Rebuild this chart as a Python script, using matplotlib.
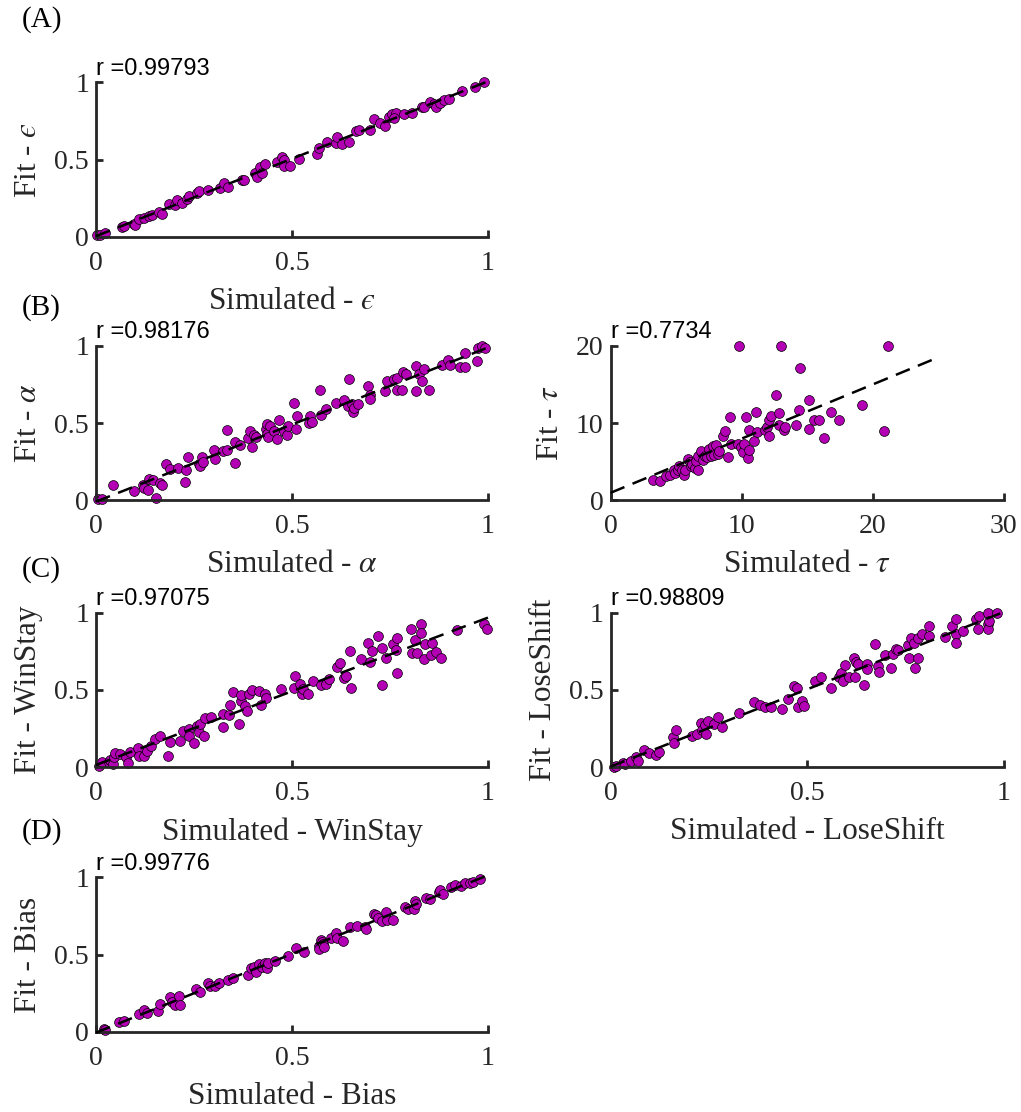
import numpy as np
import matplotlib
matplotlib.use('Agg')
import matplotlib.pyplot as plt

plt.rcParams['font.family'] = ['Liberation Serif', 'DejaVu Serif']
plt.rcParams['mathtext.fontset'] = 'stix'

# ---- data (simulated vs fitted parameters) ----
eps_sim = [0.003, 0.011, 0.024, 0.066, 0.071, 0.096, 0.100, 0.109, 0.122, 0.134, 0.143, 0.160,
           0.168, 0.185, 0.202, 0.207, 0.219, 0.232, 0.236, 0.258, 0.264, 0.287, 0.317, 0.326,
           0.338, 0.372, 0.377, 0.406, 0.411, 0.419, 0.423, 0.432, 0.462, 0.474, 0.479, 0.479,
           0.496, 0.517, 0.564, 0.568, 0.589, 0.611, 0.615, 0.628, 0.645, 0.662, 0.670, 0.700,
           0.708, 0.725, 0.738, 0.747, 0.755, 0.764, 0.759, 0.785, 0.806, 0.832, 0.836, 0.853,
           0.861, 0.866, 0.878, 0.887, 0.900, 0.934, 0.968, 0.989]
eps_fit = [0.011, 0.015, 0.026, 0.065, 0.073, 0.086, 0.076, 0.114, 0.125, 0.134, 0.140, 0.162,
           0.147, 0.212, 0.205, 0.238, 0.220, 0.248, 0.263, 0.281, 0.298, 0.302, 0.318, 0.346,
           0.324, 0.367, 0.371, 0.410, 0.389, 0.454, 0.410, 0.471, 0.486, 0.518, 0.497, 0.458,
           0.458, 0.503, 0.536, 0.572, 0.616, 0.609, 0.644, 0.598, 0.616, 0.687, 0.691, 0.691,
           0.765, 0.734, 0.717, 0.778, 0.793, 0.803, 0.767, 0.795, 0.799, 0.838, 0.842, 0.875,
           0.860, 0.838, 0.868, 0.886, 0.890, 0.944, 0.972, 0.999]

alpha_sim = [0.005, 0.015, 0.043, 0.098, 0.120, 0.123, 0.132, 0.134, 0.145, 0.152, 0.164, 0.168,
             0.179, 0.190, 0.209, 0.228, 0.230, 0.234, 0.264, 0.266, 0.270, 0.272, 0.300, 0.303,
             0.323, 0.334, 0.334, 0.354, 0.355, 0.367, 0.387, 0.392, 0.398, 0.404, 0.408, 0.434,
             0.436, 0.436, 0.439, 0.443, 0.455, 0.462, 0.466, 0.480, 0.486, 0.489, 0.506, 0.511,
             0.513, 0.543, 0.545, 0.551, 0.571, 0.574, 0.587, 0.611, 0.632, 0.643, 0.646, 0.653,
             0.655, 0.659, 0.668, 0.693, 0.700, 0.700, 0.738, 0.742, 0.759, 0.768, 0.769, 0.780,
             0.782, 0.792, 0.817, 0.817, 0.823, 0.832, 0.836, 0.850, 0.883, 0.898, 0.902, 0.928,
             0.942, 0.942, 0.972, 0.974, 0.985, 0.991]
alpha_fit = [0.008, 0.012, 0.097, 0.060, 0.097, 0.082, 0.065, 0.136, 0.130, 0.017, 0.112, 0.097,
             0.233, 0.205, 0.210, 0.119, 0.194, 0.281, 0.238, 0.222, 0.281, 0.248, 0.324, 0.270,
             0.320, 0.324, 0.454, 0.242, 0.378, 0.356, 0.406, 0.449, 0.346, 0.421, 0.410, 0.464,
             0.492, 0.432, 0.410, 0.479, 0.449, 0.400, 0.518, 0.449, 0.421, 0.479, 0.631, 0.464,
             0.544, 0.501, 0.544, 0.508, 0.717, 0.555, 0.594, 0.631, 0.652, 0.609, 0.788, 0.626,
             0.572, 0.600, 0.626, 0.739, 0.685, 0.659, 0.708, 0.773, 0.788, 0.717, 0.795, 0.717,
             0.832, 0.816, 0.708, 0.868, 0.816, 0.773, 0.847, 0.717, 0.879, 0.907, 0.879, 0.864,
             0.864, 0.955, 0.903, 0.983, 0.998, 0.989]

tau_sim = [3.23, 3.74, 4.20, 4.50, 4.81, 4.93, 5.14, 5.26, 5.47, 5.64, 5.70, 5.90, 6.03, 6.15,
           6.23, 6.41, 6.53, 6.66, 6.71, 6.92, 7.04, 7.17, 7.35, 7.55, 7.68, 7.81, 7.86, 8.06,
           8.19, 8.31, 8.57, 8.77, 8.95, 9.08, 9.20, 9.71, 9.84, 9.97, 10.09, 10.22, 10.35, 10.48,
           10.55, 10.55, 10.98, 11.11, 11.16, 11.75, 11.93, 12.08, 12.13, 12.26, 12.64, 12.84,
           12.84, 12.97, 13.20, 13.35, 14.16, 14.37, 14.42, 15.18, 15.18, 15.56, 15.89, 16.32,
           16.83, 17.47, 19.20, 20.90, 21.15]
tau_fit = [2.58, 2.49, 3.13, 3.26, 3.91, 3.56, 3.91, 4.42, 3.99, 3.35, 3.99, 5.36, 4.94, 4.42,
           4.76, 4.21, 5.06, 3.99, 5.71, 6.35, 5.28, 5.71, 5.62, 6.65, 5.71, 7.00, 5.92, 7.21,
           6.05, 6.35, 8.37, 9.01, 5.62, 10.77, 7.34, 7.34, 20.0, 6.91, 6.22, 7.34, 10.77, 5.49,
           6.57, 9.06, 7.64, 11.50, 8.80, 9.14, 9.48, 10.43, 8.37, 10.86, 13.65, 11.29,
           9.79, 20.0, 9.14, 9.48, 9.79, 11.72, 17.08, 13.00, 9.27, 10.43, 10.43, 8.07,
           11.50, 10.34, 12.36, 9.01, 20.0]

ws_sim = [0.007, 0.015, 0.032, 0.037, 0.043, 0.045, 0.048, 0.062, 0.077, 0.081, 0.088, 0.107,
          0.111, 0.122, 0.130, 0.140, 0.151, 0.164, 0.184, 0.188, 0.215, 0.222, 0.236, 0.236,
          0.249, 0.258, 0.262, 0.266, 0.275, 0.277, 0.294, 0.324, 0.324, 0.339, 0.343, 0.349,
          0.366, 0.369, 0.370, 0.380, 0.386, 0.390, 0.398, 0.415, 0.420, 0.432, 0.434, 0.473,
          0.507, 0.506, 0.520, 0.526, 0.528, 0.540, 0.553, 0.574, 0.586, 0.594, 0.615, 0.622,
          0.632, 0.638, 0.649, 0.651, 0.677, 0.694, 0.699, 0.705, 0.719, 0.730, 0.730, 0.739,
          0.758, 0.764, 0.767, 0.768, 0.804, 0.805, 0.813, 0.820, 0.828, 0.828, 0.837, 0.838,
          0.855, 0.858, 0.866, 0.881, 0.920, 0.990, 0.998]
ws_fit = [0.011, 0.032, 0.032, 0.047, 0.022, 0.065, 0.090, 0.086, 0.065, 0.026, 0.097, 0.123,
          0.075, 0.075, 0.108, 0.140, 0.183, 0.204, 0.075, 0.161, 0.172, 0.237, 0.247, 0.204,
          0.155, 0.269, 0.226, 0.280, 0.204, 0.318, 0.327, 0.258, 0.344, 0.340, 0.404, 0.490,
          0.280, 0.426, 0.469, 0.394, 0.361, 0.473, 0.499, 0.495, 0.404, 0.473, 0.447, 0.505,
          0.591, 0.516, 0.538, 0.473, 0.505, 0.477, 0.555, 0.531, 0.542, 0.570, 0.649, 0.677,
          0.576, 0.591, 0.753, 0.512, 0.703, 0.802, 0.682, 0.753, 0.849, 0.770, 0.533, 0.710,
          0.796, 0.757, 0.613, 0.834, 0.892, 0.742, 0.822, 0.742, 0.929, 0.871, 0.699, 0.800,
          0.727, 0.806, 0.748, 0.705, 0.886, 0.929, 0.892]

ls_sim = [0.008, 0.014, 0.031, 0.036, 0.053, 0.065, 0.069, 0.086, 0.099, 0.116, 0.122, 0.158,
          0.161, 0.167, 0.207, 0.220, 0.231, 0.233, 0.239, 0.243, 0.249, 0.262, 0.273, 0.284,
          0.326, 0.366, 0.381, 0.394, 0.408, 0.436, 0.451, 0.466, 0.474, 0.476, 0.487, 0.492,
          0.519, 0.536, 0.561, 0.582, 0.586, 0.591, 0.597, 0.606, 0.620, 0.623, 0.625, 0.629,
          0.646, 0.652, 0.652, 0.673, 0.680, 0.684, 0.699, 0.714, 0.718, 0.726, 0.730, 0.756,
          0.758, 0.764, 0.773, 0.775, 0.781, 0.783, 0.792, 0.811, 0.811, 0.852, 0.869, 0.880,
          0.880, 0.880, 0.897, 0.929, 0.934, 0.938, 0.959, 0.959, 0.959, 0.964, 0.982]
ls_fit = [0.005, 0.011, 0.026, 0.022, 0.043, 0.069, 0.043, 0.112, 0.090, 0.080, 0.097, 0.198,
          0.155, 0.241, 0.204, 0.215, 0.284, 0.241, 0.275, 0.215, 0.301, 0.280, 0.327, 0.262,
          0.348, 0.424, 0.404, 0.387, 0.391, 0.376, 0.441, 0.527, 0.516, 0.387, 0.430, 0.398,
          0.555, 0.585, 0.516, 0.581, 0.613, 0.559, 0.662, 0.585, 0.710, 0.585, 0.684, 0.671,
          0.533, 0.667, 0.634, 0.796, 0.656, 0.619, 0.727, 0.641, 0.731, 0.768, 0.757, 0.791,
          0.705, 0.834, 0.806, 0.645, 0.705, 0.839, 0.860, 0.849, 0.914, 0.843, 0.914, 0.957,
          0.860, 0.806, 0.882, 0.957, 0.892, 0.978, 1.000, 0.929, 0.892, 0.946, 1.000]

bias_sim = [0.020, 0.024, 0.058, 0.071, 0.109, 0.122, 0.130, 0.157, 0.164, 0.188, 0.194, 0.201,
            0.211, 0.215, 0.256, 0.265, 0.287, 0.290, 0.304, 0.315, 0.338, 0.350, 0.387, 0.395,
            0.402, 0.409, 0.415, 0.423, 0.430, 0.436, 0.439, 0.457, 0.489, 0.511, 0.530, 0.568,
            0.570, 0.574, 0.577, 0.579, 0.582, 0.600, 0.611, 0.616, 0.630, 0.647, 0.666, 0.687,
            0.690, 0.708, 0.714, 0.719, 0.730, 0.740, 0.742, 0.758, 0.789, 0.795, 0.810, 0.813,
            0.815, 0.843, 0.851, 0.874, 0.878, 0.885, 0.906, 0.917, 0.931, 0.942, 0.953, 0.962,
            0.979]
bias_fit = [0.022, 0.011, 0.065, 0.069, 0.115, 0.141, 0.123, 0.136, 0.180, 0.227, 0.195, 0.173,
            0.232, 0.173, 0.281, 0.260, 0.318, 0.297, 0.297, 0.314, 0.335, 0.346, 0.368, 0.411,
            0.422, 0.390, 0.437, 0.422, 0.444, 0.411, 0.444, 0.461, 0.491, 0.541, 0.519, 0.556,
            0.535, 0.595, 0.584, 0.569, 0.548, 0.606, 0.639, 0.606, 0.591, 0.677, 0.686, 0.677,
            0.665, 0.762, 0.758, 0.736, 0.719, 0.773, 0.725, 0.721, 0.807, 0.794, 0.794, 0.844,
            0.827, 0.866, 0.859, 0.903, 0.920, 0.894, 0.937, 0.952, 0.946, 0.963, 0.963, 0.968,
            0.989]

r_values = ['0.99793', '0.98176', '0.7734', '0.97075', '0.98809', '0.99776']
panel_labels = ['(A)', '(B)', '(C)', '(D)']

MAG = '#B400B4'
AX_COL = '#262626'

fig = plt.figure(figsize=(10.21, 11.12), dpi=100)


def make_panel(rect, xs, ys, r, xlab, ylab, lim, ticks, line_end):
    ax = fig.add_axes(rect)
    xs = np.array(xs)
    ys = np.array(ys)
    p = np.polyfit(xs, ys, 1)
    xl = np.array([0, line_end])
    ax.plot(xl, np.polyval(p, xl), color='k', ls='--', lw=1.8, dashes=(6, 3.5), zorder=3,
            clip_on=False)
    ax.scatter(xs, ys, s=50, color=MAG, edgecolors='k', linewidths=0.5, zorder=2,
               clip_on=False)
    ax.set_xlim(lim[0])
    ax.set_ylim(lim[1])
    ax.set_xticks(ticks[0])
    ax.set_yticks(ticks[1])
    ax.set_xticklabels([f'{t:g}' for t in ticks[0]])
    ax.set_yticklabels([f'{t:g}' for t in ticks[1]])
    for s in ['top', 'right']:
        ax.spines[s].set_visible(False)
    for s in ['left', 'bottom']:
        ax.spines[s].set_linewidth(2.0)
        ax.spines[s].set_color(AX_COL)
    ax.tick_params(direction='in', length=5, width=2.0, color=AX_COL,
                   labelsize=20, labelcolor=AX_COL)
    ax.tick_params(axis='x', pad=10)
    ax.tick_params(axis='y', pad=5)
    ax.set_xlabel(xlab, fontsize=22.5, color=AX_COL, labelpad=8)
    ax.set_ylabel(ylab, fontsize=22.5, color=AX_COL, labelpad=8)
    ax.text(0, 1.05, 'r =' + r, transform=ax.transAxes, fontsize=17,
            family=['Liberation Sans', 'DejaVu Sans'], va='baseline', ha='left')
    return ax


unit = ([0, 1], [0, 1])
uticks = ([0, 0.5, 1], [0, 0.5, 1])

make_panel([0.094, 0.787, 0.384, 0.139], eps_sim, eps_fit, r_values[0],
           'Simulated - $\u03f5$', 'Fit - $\u03f5$', unit, uticks, 1)
make_panel([0.094, 0.550, 0.384, 0.139], alpha_sim, alpha_fit, r_values[1],
           r'Simulated - $\alpha$', r'Fit - $\alpha$', unit, uticks, 1)
make_panel([0.598, 0.550, 0.385, 0.139], tau_sim, tau_fit, r_values[2],
           r'Simulated - $\tau$', r'Fit - $\tau$', ([0, 30], [0, 20]),
           ([0, 10, 20, 30], [0, 10, 20]), 25)
make_panel([0.094, 0.310, 0.384, 0.139], ws_sim, ws_fit, r_values[3],
           'Simulated - WinStay', 'Fit - WinStay', unit, uticks, 1)
make_panel([0.598, 0.310, 0.385, 0.139], ls_sim, ls_fit, r_values[4],
           'Simulated - LoseShift', 'Fit - LoseShift', unit, uticks, 1)
make_panel([0.094, 0.072, 0.384, 0.139], bias_sim, bias_fit, r_values[5],
           'Simulated - Bias', 'Fit - Bias', unit, uticks, 1)

for lab, y in zip(panel_labels, [0.982, 0.723, 0.4874, 0.2518]):
    fig.text(0.021, y, lab, fontsize=21, va='center', ha='left')

fig.savefig('out.png', dpi=100)
